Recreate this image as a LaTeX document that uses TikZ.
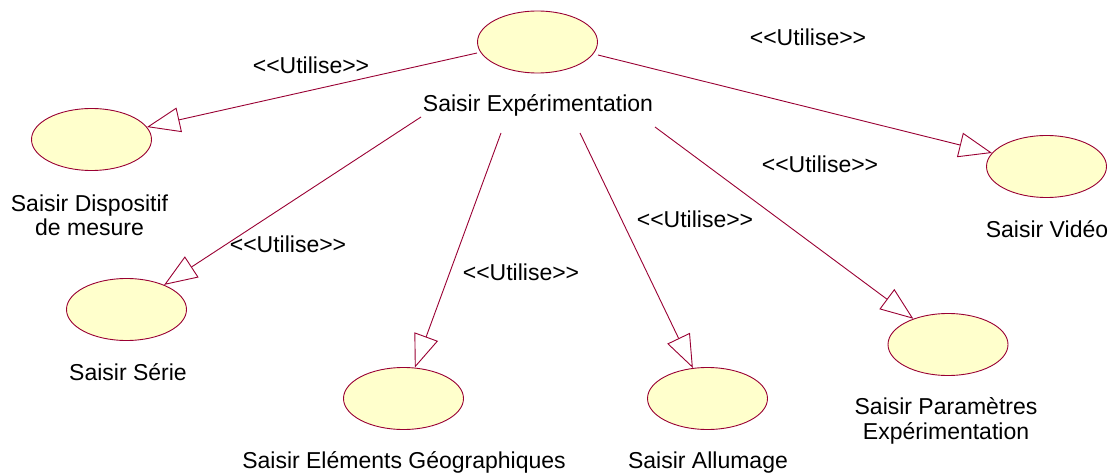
\documentclass[tikz,border=0pt]{standalone}
\usepackage{fontspec}
\setmainfont{Liberation Sans}
\usetikzlibrary{shapes.geometric,arrows.meta}
\definecolor{umlline}{RGB}{153,0,51}
\definecolor{ucfill}{RGB}{255,255,204}
\begin{document}
\begin{tikzpicture}[x=1pt,y=-1pt,
  uc/.style={ellipse, draw=umlline, fill=ucfill, line width=0.9pt,
             minimum width=120pt, minimum height=62pt, inner sep=0pt},
  lbl/.style={font=\fontsize{23}{24.5}\selectfont, inner sep=0pt, anchor=base, align=center},
  use/.style={draw=umlline, line width=0.9pt,
              -{Triangle[open, length=33pt, width=25pt, line width=0.9pt]}}]
\path[use as bounding box] (0,0) rectangle (1114,473);
% use cases
\node[uc] (exp)   at (537.5,42) {};
\node[uc] (disp)  at (91.5,139.5) {};
\node[uc] (video) at (1046.5,166.5) {};
\node[uc] (serie) at (126.5,309.5) {};
\node[uc] (geo)   at (403.5,398.5) {};
\node[uc] (allu)  at (707.5,398.5) {};
\node[uc] (param) at (948,344.5) {};
% names (base anchor = baseline of the last line)
\node[lbl] (expL)   at (538,112) {Saisir Expérimentation};
\node[lbl] (dispL)  at (89.5,236) {Saisir Dispositif\\de mesure};
\node[lbl] (videoL) at (1047,237) {Saisir Vidéo};
\node[lbl] (serieL) at (128,380) {Saisir Série};
\node[lbl] (geoL)   at (404,468) {Saisir Eléments Géographiques};
\node[lbl] (alluL)  at (708,468) {Saisir Allumage};
\node[lbl] (paramL) at (946,439) {Saisir Paramètres\\Expérimentation};
% stereotypes
\node[lbl] (u1) at (311,74)  {<{}<Utilise>{}>};
\node[lbl] (u2) at (808,46)  {<{}<Utilise>{}>};
\node[lbl] (u3) at (288,252) {<{}<Utilise>{}>};
\node[lbl] (u4) at (521,280) {<{}<Utilise>{}>};
\node[lbl] (u5) at (695,228) {<{}<Utilise>{}>};
\node[lbl] (u6) at (820,173) {<{}<Utilise>{}>};
% connector start points
\coordinate (s1) at (477,53);
\coordinate (s2) at (598,55);
\coordinate (s3) at (421,117);
\coordinate (s4) at (501,133);
\coordinate (s5) at (580,133);
\coordinate (s6) at (655,127);
\draw[use] (s1) -- (disp);
\draw[use] (s2) -- (video);
\draw[use] (s3) -- (serie);
\draw[use] (s4) -- (geo);
\draw[use] (s5) -- (allu);
\draw[use] (s6) -- (param);
\end{tikzpicture}
\end{document}
